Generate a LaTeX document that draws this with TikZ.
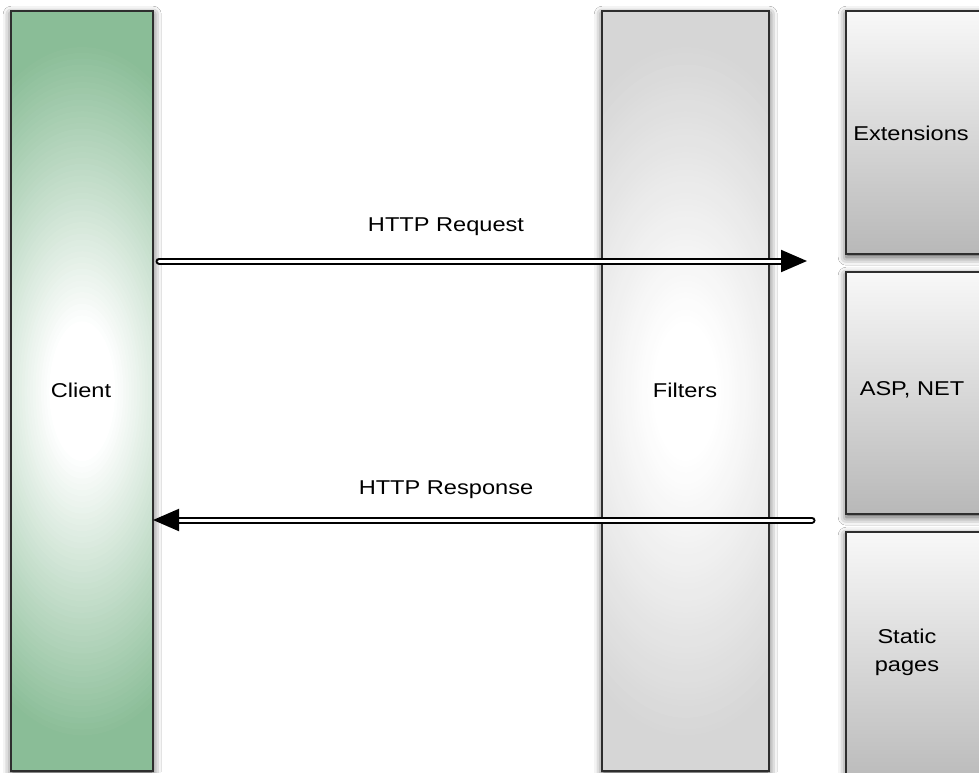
\documentclass[tikz,border=0pt]{standalone}
\usepackage{fontspec}
\setmainfont{Liberation Sans}[FakeStretch=1.18]
\usetikzlibrary{arrows.meta,shadows.blur}

\definecolor{clientgreen}{HTML}{8ABD97}
\definecolor{filtergray}{HTML}{D6D6D6}
\definecolor{boxtop}{HTML}{F8F8F8}
\definecolor{boxbottom}{HTML}{B8B8B8}
\definecolor{edge}{HTML}{2E2E2E}

\tikzset{
  softshadow/.style={blur shadow={shadow xshift=0pt, shadow yshift=-3pt,
      shadow blur radius=8pt, shadow opacity=70}},
  column/.style={draw=edge, line width=2.4pt, rectangle, anchor=north west,
      inner sep=0pt, softshadow},
  % tall column with a soft white glow around its middle,
  % built from nested ellipses fading from the edge colour to white
  glowcol/.style={column, fill=#1, path picture={
      \foreach \k in {0,...,59}{
        \pgfmathsetmacro\mixw{min(100,100*\k/48)}
        \fill[white!\mixw!#1] (path picture bounding box.center)
          ellipse [x radius={165*(1-\k/60)}, y radius={350*(1-\k/60)}];
      }}},
  handler/.style={column, top color=boxtop, bottom color=boxbottom},
  lbl/.style={font=\fontsize{20}{24}\selectfont, text=black, align=center},
  flow/.style={draw=black, line width=2pt, double=white, double distance=3pt,
      line cap=round, -{Triangle[length=26pt,width=22pt]}},
}

\begin{document}
\begin{tikzpicture}[x=1pt,y=-1pt]
  \useasboundingbox (0,0) rectangle (979,772);
  \clip (0,0) rectangle (979,772);
  \fill[white] (0,0) rectangle (979,772);

  % main columns
  \node[glowcol=clientgreen, minimum width=142pt, minimum height=760pt] (client) at (10,10) {};
  \node[glowcol=filtergray, minimum width=167pt, minimum height=760pt] (filters) at (601,10) {};

  % request handlers on the right
  \node[handler, minimum width=150pt, minimum height=243pt] (ext) at (845,10) {};
  \node[handler, minimum width=150pt, minimum height=242pt] (asp) at (845,271) {};
  \node[handler, minimum width=150pt, minimum height=260pt] (static) at (845,531) {};

  % labels
  \node[lbl] (clientlbl) at (81,390) {Client};
  \node[lbl] (filterslbl) at (685,390) {Filters};
  \node[lbl] (extlbl) at (911,133) {Extensions};
  \node[lbl] (asplbl) at (912,390) {ASP, NET};
  \node[lbl, font=\fontsize{20}{28}\selectfont] (staticlbl) at (907,652) {Static\\pages};

  % request / response flows
  \coordinate (reqstart) at (159,261);
  \coordinate (reqend) at (807,261);
  \coordinate (respstart) at (812,520);
  \coordinate (respend) at (153,520);
  \draw[flow] (reqstart) -- (reqend);
  \draw[flow] (respstart) -- (respend);

  \node[lbl] (reqlbl) at (446,227) {HTTP Request};
  \node[lbl] (resplbl) at (446,490) {HTTP Response};
\end{tikzpicture}
\end{document}
